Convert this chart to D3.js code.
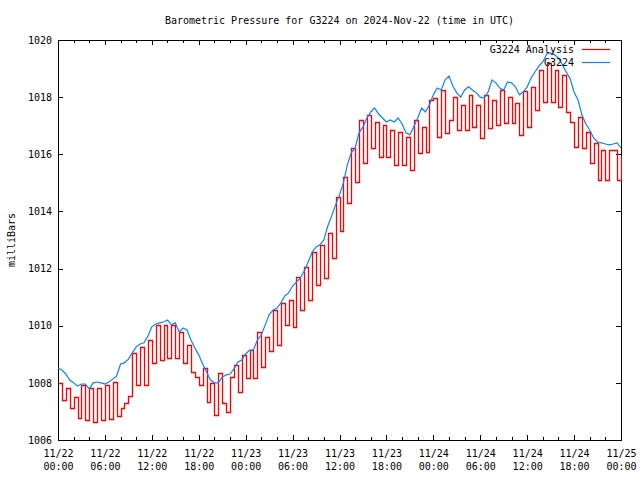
<!DOCTYPE html>
<html><head><meta charset="utf-8">
<script src="https://cdn.jsdelivr.net/npm/d3@7"></script>
<style>
body{margin:0;background:#fff}
svg text{font-family:"DejaVu Sans Mono","Liberation Mono",monospace;font-size:10px;fill:#000}
</style></head><body><svg id="c" width="640" height="480"></svg>
<script>
const titleText = "Barometric Pressure for G3224 on 2024-Nov-22 (time in UTC)";
const yLabelText = "milliBars";
const seriesNames = ["G3224 Analysis", "G3224"];
const seriesColors = ["#ff0000", "#0a84ff"];
const startTime = Date.UTC(2024, 10, 22, 0, 0);
const endTime = Date.UTC(2024, 10, 25, 0, 0);
const stepMinutes = 30;

// station observations (mb), every 30 min from 11/22 00:00 UTC
const stationValues = [
 1008.52,1008.45,1008.31,1008.1,1008.0,1007.89,1007.96,1007.96,1007.79,1008.0,
 1008.03,1008.0,1007.96,1008.03,1008.13,1008.24,1008.66,1008.7,1008.83,1009.05,
 1009.26,1009.36,1009.4,1009.64,1009.96,1010.06,1010.1,1010.13,1010.2,1010.03,
 1010.1,1009.78,1009.92,1009.85,1009.5,1009.22,1008.98,1008.66,1008.38,1008.1,
 1008.0,1008.0,1008.2,1008.28,1008.31,1008.49,1008.73,1008.8,1009.01,1009.15,
 1009.15,1009.5,1009.68,1010.03,1010.38,1010.55,1010.62,1010.8,1011.04,1011.15,
 1011.39,1011.53,1011.67,1011.92,1012.23,1012.58,1012.76,1012.83,1013.0,1013.49,
 1013.84,1014.23,1014.58,1015.0,1015.63,1016.05,1016.22,1016.75,1016.96,1017.27,
 1017.48,1017.62,1017.41,1017.27,1017.13,1017.2,1017.13,1017.27,1017.06,1016.75,
 1016.68,1016.96,1017.27,1017.62,1017.48,1017.73,1018.08,1018.32,1018.25,1018.6,
 1018.74,1018.39,1018.15,1018.0,1018.25,1018.36,1018.25,1018.15,1018.0,1017.97,
 1018.18,1018.6,1018.5,1018.32,1018.25,1018.53,1018.5,1018.36,1018.08,1018.18,
 1018.36,1018.67,1018.88,1019.09,1019.23,1019.51,1019.55,1019.48,1019.37,1019.13,
 1018.88,1018.64,1018.18,1017.9,1017.38,1017.06,1016.85,1016.57,1016.43,1016.4,
 1016.36,1016.33,1016.36,1016.4,1016.22
];

// analysis values (mb), step series, every 30 min
const analysisValues = [
 1008.0,1007.4,1007.82,1007.12,1007.5,1006.77,1007.93,1006.7,1007.82,1006.63,
 1007.82,1006.7,1007.93,1006.73,1008.03,1006.85,1007.12,1007.3,1007.55,1009.05,
 1007.93,1009.25,1007.93,1009.5,1008.7,1010.03,1008.8,1010.03,1008.87,1010.03,
 1008.87,1009.78,1008.7,1009.33,1008.38,1008.2,1007.93,1008.52,1007.33,1008.0,
 1006.87,1008.35,1007.3,1006.98,1008.2,1008.63,1007.68,1008.98,1008.17,1009.15,
 1008.17,1009.78,1008.56,1009.6,1009.11,1010.55,1009.33,1010.8,1010.03,1010.9,
 1009.96,1011.7,1010.55,1012.05,1010.9,1012.58,1011.42,1012.83,1011.67,1013.25,
 1012.37,1014.5,1013.3,1015.2,1014.3,1016.22,1015.03,1017.2,1015.7,1017.37,
 1016.22,1017.13,1015.9,1017.03,1015.9,1016.85,1015.63,1016.78,1015.63,1016.6,
 1015.45,1017.2,1016.05,1016.96,1016.08,1017.9,1017.97,1016.6,1018.25,1016.75,
 1017.2,1018.0,1016.85,1017.72,1016.85,1018.07,1016.96,1017.72,1016.57,1018.07,
 1016.92,1017.9,1017.03,1018.25,1017.1,1018.0,1017.1,1017.8,1016.68,1018.2,
 1016.96,1018.36,1017.55,1018.95,1017.83,1019.2,1017.83,1018.95,1017.65,1018.78,
 1017.48,1017.13,1016.26,1017.3,1016.22,1016.78,1015.7,1016.4,1015.1,1016.15,
 1015.1,1016.15,1016.15,1015.1,1015.98
];

const yTicks = [1006,1008,1010,1012,1014,1016,1018,1020];
const xTickDates = ["11/22","11/22","11/22","11/22","11/23","11/23","11/23","11/23","11/24","11/24","11/24","11/24","11/25"];
const xTickTimes = ["00:00","06:00","12:00","18:00","00:00","06:00","12:00","18:00","00:00","06:00","12:00","18:00","00:00"];
const majorHours = 6, minorHours = 2;

const W = 640, H = 480;
const m = {l:58, r:19, t:40, b:40};
const iw = W - m.l - m.r, ih = H - m.t - m.b;
const svg = d3.select("#c");
const g = svg.append("g").attr("transform", `translate(${m.l},${m.t})`);

const x = d3.scaleUtc().domain([new Date(startTime), new Date(endTime)]).range([0, iw]);
const y = d3.scaleLinear().domain([1006, 1020]).range([ih, 0]);

const HOUR = 3600e3;
const majorVals = d3.range(startTime, endTime + 1, majorHours*HOUR).map(t => new Date(t));
const minorVals = d3.range(startTime, endTime + 1, minorHours*HOUR).map(t => new Date(t));

g.append("g").attr("transform", `translate(0,${ih})`)
  .call(d3.axisBottom(x).tickValues(minorVals).tickSize(-3).tickFormat(""));
g.append("g")
  .call(d3.axisTop(x).tickValues(minorVals).tickSize(-3).tickFormat(""));
const xb = g.append("g").attr("transform", `translate(0,${ih})`)
  .call(d3.axisBottom(x).tickValues(majorVals).tickSize(-5).tickPadding(10).tickFormat((d,i)=>xTickDates[i]));
xb.selectAll(".tick text").each(function(d,i){
  const t = d3.select(this);
  t.text(null);
  t.append("tspan").attr("x",0).attr("dy","0.71em").text(xTickDates[i]);
  t.append("tspan").attr("x",0).attr("dy","1.3em").text(xTickTimes[i]);
});
g.append("g")
  .call(d3.axisTop(x).tickValues(majorVals).tickSize(-5).tickFormat(""));
g.append("g").call(d3.axisLeft(y).tickValues(yTicks).tickSize(-5).tickPadding(6).tickFormat(d3.format("d")));
g.append("g").attr("transform", `translate(${iw},0)`)
  .call(d3.axisRight(y).tickValues(yTicks).tickSize(-5).tickFormat(""));

g.selectAll(".domain").remove();
g.selectAll(".tick line").attr("stroke","#000").attr("shape-rendering","crispEdges");
g.selectAll(".tick text").attr("font-family",null).attr("font-size",null).attr("fill","#000");

g.append("rect").attr("x",0.5).attr("y",0.5).attr("width",iw).attr("height",ih)
  .attr("fill","none").attr("stroke","#000").attr("shape-rendering","crispEdges");

svg.append("text").attr("x", m.l + iw/2).attr("y", 24).attr("text-anchor","middle").text(titleText);
svg.append("text").attr("transform","translate(15,240) rotate(-90)").attr("text-anchor","middle").text(yLabelText);

const legY = [49, 62];
seriesNames.forEach((name,i)=>{
  svg.append("text").attr("x", 574).attr("y", legY[i] + 4).attr("text-anchor","end").text(name);
  svg.append("line").attr("x1",582).attr("x2",610).attr("y1",legY[i]+0.5).attr("y2",legY[i]+0.5)
    .attr("stroke",seriesColors[i]).attr("stroke-width",1.2);
});

const timeOf = i => new Date(startTime + i*stepMinutes*60e3);
const analysisData = analysisValues.map((v,i)=>({t:timeOf(i), v}));
const stationData = stationValues.map((v,i)=>({t:timeOf(i), v}));

g.append("clipPath").attr("id","pc").append("rect").attr("x",-1).attr("y",-1).attr("width",iw+2).attr("height",ih+2);
const plot = g.append("g").attr("clip-path","url(#pc)");

plot.append("path").datum(analysisData)
  .attr("d", d3.line().x(d=>Math.round(x(d.t))+0.5).y(d=>Math.round(y(d.v))+0.5).curve(d3.curveStepAfter))
  .attr("fill","none").attr("stroke",seriesColors[0]).attr("stroke-width",1.3);
plot.append("path").datum(stationData)
  .attr("d", d3.line().x(d=>x(d.t)).y(d=>y(d.v)))
  .attr("fill","none").attr("stroke",seriesColors[1]).attr("stroke-width",1.2);
</script></body></html>
